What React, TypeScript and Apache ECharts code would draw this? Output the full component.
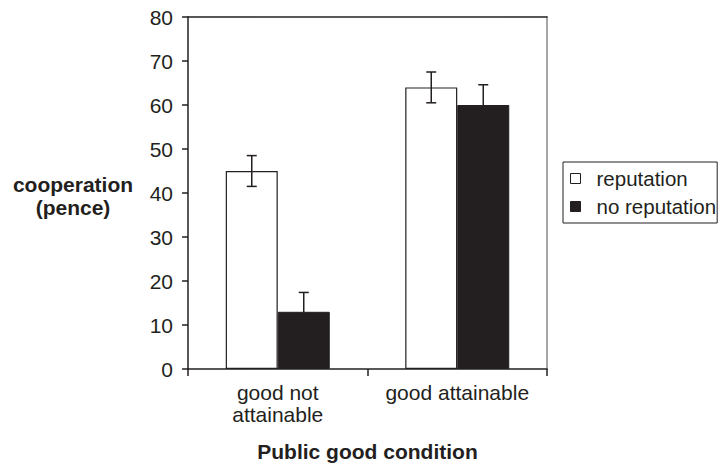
import React, { useEffect, useRef } from "react";
import * as echarts from "echarts";

const categories = ["good not\nattainable", "good attainable"];
const seriesNames = ["reputation", "no reputation"];
const reputation = [45, 64];
const reputationErr = [3.5, 3.5];
const noReputation = [13, 60];
const noReputationErr = [4.4, 4.6];
const yTicks = { min: 0, max: 80, interval: 10 };

const FONT = "Liberation Sans, Arial, sans-serif";
const DARK = "#231f20";
const FS = 21;

export default function App() {
  const ref = useRef<HTMLDivElement>(null);
  useEffect(() => {
    document.body.style.margin = "0";
    if (!ref.current) return;
    const chart = echarts.init(ref.current, undefined, { renderer: "svg" });
    const BW = 52;
    const errSeries = (vals: number[], errs: number[], offset: number) => ({
      type: "custom",
      silent: true,
      z: 10,
      data: vals.map((v, i) => [i, v - errs[i], v + errs[i]]),
      renderItem: (params: any, api: any) => {
        const lo = api.coord([api.value(0), api.value(1)]);
        const hi = api.coord([api.value(0), api.value(2)]);
        const x = lo[0] + offset;
        const cap = 5;
        const st = { stroke: DARK, lineWidth: 1.5 };
        return {
          type: "group",
          children: [
            { type: "line", shape: { x1: x, y1: lo[1], x2: x, y2: hi[1] }, style: st },
            { type: "line", shape: { x1: x - cap, y1: hi[1], x2: x + cap, y2: hi[1] }, style: st },
            { type: "line", shape: { x1: x - cap, y1: lo[1], x2: x + cap, y2: lo[1] }, style: st },
          ],
        };
      },
    });
    chart.setOption({
      animation: false,
      textStyle: { fontFamily: FONT },
      grid: { left: 188, right: 176, top: 17, bottom: 97, outerBoundsMode: "none", containLabel: false },
      legend: {
        orient: "vertical",
        left: 563,
        top: 162,
        padding: [6, 1, 6, 7],
        itemGap: 7,
        itemWidth: 10,
        itemHeight: 10,
        borderColor: DARK,
        borderWidth: 1,
        textStyle: { fontSize: 20.5, color: DARK, fontFamily: FONT, padding: [0, 0, 0, 11] },
        data: [
          { name: seriesNames[0], icon: "rect", itemStyle: { color: "#fff", borderColor: DARK, borderWidth: 1 } },
          { name: seriesNames[1], icon: "rect", itemStyle: { color: DARK, borderColor: DARK, borderWidth: 1 } },
        ],
      },
      xAxis: [
        {
          type: "category",
          data: categories,
          axisLine: { lineStyle: { color: DARK, width: 1.5 } },
          axisTick: { show: true, length: 7, lineStyle: { color: DARK, width: 1.5 } },
          axisLabel: { fontSize: FS, color: DARK, margin: 12, lineHeight: 22, interval: 0, hideOverlap: false },
          name: "Public good condition",
          nameLocation: "middle",
          nameGap: 72,
          nameTextStyle: { fontSize: FS, fontWeight: "bold", color: DARK },
        },
        {
          type: "category",
          position: "top",
          data: categories,
          axisLine: { show: true, onZero: false, lineStyle: { color: DARK, width: 1.5 } },
          axisTick: { show: false },
          axisLabel: { show: false },
        },
      ],
      yAxis: [
        {
          type: "value",
          min: yTicks.min,
          max: yTicks.max,
          interval: yTicks.interval,
          axisLine: { show: true, lineStyle: { color: DARK, width: 1.5 } },
          axisTick: { show: true, length: 6, lineStyle: { color: DARK, width: 1.5 } },
          axisLabel: { fontSize: FS, color: DARK, margin: 15 },
          splitLine: { show: false },
        },
        {
          type: "value",
          position: "right",
          min: yTicks.min,
          max: yTicks.max,
          interval: yTicks.interval,
          axisLine: { show: true, onZero: false, lineStyle: { color: "#888", width: 1.5 } },
          axisTick: { show: false },
          axisLabel: { show: false },
          splitLine: { show: false },
        },
      ],
      graphic: [
        {
          type: "text",
          x: 73,
          y: 173,
          style: {
            text: "cooperation\n(pence)",
            font: `bold ${FS}px ${FONT}`,
            fill: DARK,
            align: "center",
            verticalAlign: "top",
            lineHeight: 23,
          },
        },
      ],
      series: [
        {
          name: seriesNames[0],
          type: "bar",
          data: reputation,
          barWidth: BW,
          barGap: "0%",
          itemStyle: { color: "#fff", borderColor: DARK, borderWidth: 1.2 },
        },
        {
          name: seriesNames[1],
          type: "bar",
          data: noReputation,
          barWidth: BW,
          barGap: "0%",
          itemStyle: { color: DARK, borderColor: DARK, borderWidth: 1 },
        },
        errSeries(reputation, reputationErr, -BW / 2),
        errSeries(noReputation, noReputationErr, BW / 2),
      ],
    });
    return () => chart.dispose();
  }, []);
  return <div ref={ref} style={{ width: 723, height: 466 }} />;
}
